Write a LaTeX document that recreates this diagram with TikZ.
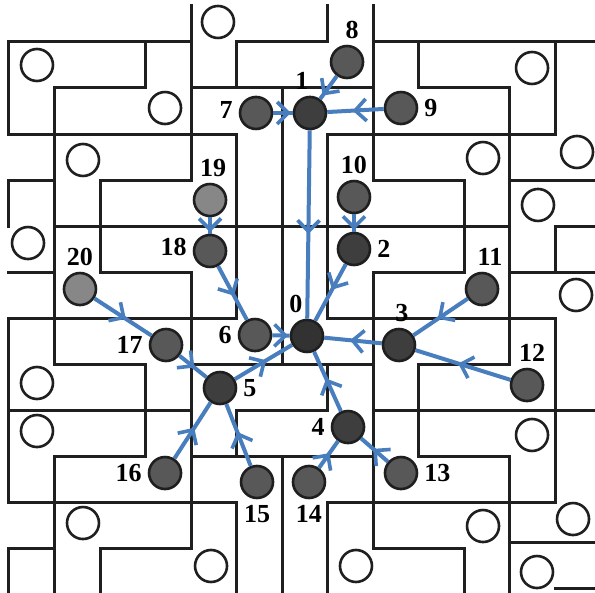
\documentclass[tikz,border=0pt]{standalone}
\usepackage{fontspec}
\setmainfont{Liberation Serif}
\usepackage{xcolor}
\usepackage{tikz}
\usetikzlibrary{arrows.meta,decorations.markings}

\definecolor{flowblue}{RGB}{72,125,190}
\definecolor{rootgray}{RGB}{50,50,50}
\definecolor{hubgray}{RGB}{62,62,62}
\definecolor{agentgray}{RGB}{88,88,88}
\definecolor{lonegray}{RGB}{135,135,135}

\begin{document}
\begin{tikzpicture}[x=45.5pt, y=-46pt, minimum size=32pt, label distance=6pt,
    wall/.style={line width=3pt, draw=black!88, line cap=rect},
    spot/.style={line width=2.6pt, draw=black!88, fill=white},
    agent/.style={shape=circle, draw=black!88, line width=2.6pt, fill=agentgray, inner sep=0pt},
    hub/.style={agent, fill=hubgray},
    lone/.style={agent, fill=lonegray},
    lbl/.style={font=\bfseries\fontsize{26}{26}\selectfont, inner sep=0pt, minimum size=0pt},
    flow/.style={draw=flowblue, line width=4pt, postaction={decorate},
        decoration={markings, mark=at position #1 with {\arrow[flowblue]{Straight Barb[length=11pt, width=22pt, line width=3.6pt]}}}},
    flow/.default=0.55]
    \useasboundingbox[fill=white] (-0.1978, -0.913) rectangle (12.879, 11.978);

    % maze walls
    \draw[wall]
        (0,0) -- (4,0) (5,0) -- (7,0) (8,0) -- (12.9,0)
        (1,1) -- (3,1) (4,1) -- (8,1) (9,1) -- (11,1)
        (0,2) -- (5,2) (7,2) -- (12,2)
        (0,3) -- (1,3) (2,3) -- (4,3) (8,3) -- (10,3) (11,3) -- (12.9,3)
        (1,4) -- (11,4) (12,4) -- (12.9,4)
        (0,5) -- (1,5) (2,5) -- (4,5) (8,5) -- (10,5) (11,5) -- (12.9,5)
        (0,6) -- (5,6) (7,6) -- (12,6)
        (1,7) -- (3,7) (4,7) -- (8,7) (9,7) -- (11,7)
        (0,8) -- (4,8) (5,8) -- (7,8) (8,8) -- (12.9,8)
        (1,9) -- (3,9) (4,9) -- (8,9) (9,9) -- (11,9)
        (0,10) -- (5,10) (7,10) -- (12,10)
        (0,11) -- (1,11) (2,11) -- (4,11) (8,11) -- (10,11) (11,10.88) -- (12.9,10.88)
        (12,11.87) -- (12.9,11.87);
    \draw[wall]
        (0,0) -- (0,2) (0,3) -- (0,4) (0,6) -- (0,10) (0,11) -- (0,11.95)
        (1,1) -- (1,7) (1,9) -- (1,11.95)
        (2,3) -- (2,5) (2,11) -- (2,11.95)
        (3,0) -- (3,1) (3,7) -- (3,9)
        (4,-0.8) -- (4,3) (4,5) -- (4,11)
        (5,0) -- (5,1) (5,2) -- (5,6) (5,8) -- (5,9) (5,10) -- (5,11.95)
        (6,1) -- (6,7) (6,9) -- (6,11.95)
        (7,-0.8) -- (7,0) (7,2) -- (7,6) (7,7) -- (7,8) (7,10) -- (7,11.95)
        (8,-0.8) -- (8,3) (8,5) -- (8,11)
        (9,0) -- (9,1) (9,7) -- (9,9)
        (10,3) -- (10,5) (10,11) -- (10,11.95)
        (11,1) -- (11,7) (11,9) -- (11,11.95)
        (12,0) -- (12,2) (12,4) -- (12,5) (12,6) -- (12,10);

    % free cells
    \draw[spot]
        (0.615, 0.5) circle[radius=16pt] (4.593, -0.435) circle[radius=16pt]
        (3.429, 1.435) circle[radius=16pt] (1.626, 2.565) circle[radius=16pt]
        (0.418, 4.37) circle[radius=16pt] (11.495, 0.565) circle[radius=16pt]
        (10.418, 2.522) circle[radius=16pt] (12.484, 2.391) circle[radius=16pt]
        (11.626, 3.543) circle[radius=16pt] (12.462, 5.5) circle[radius=16pt]
        (0.615, 7.413) circle[radius=16pt] (0.615, 8.457) circle[radius=16pt]
        (1.626, 10.457) circle[radius=16pt] (4.44, 11.391) circle[radius=16pt]
        (7.626, 11.391) circle[radius=16pt] (10.418, 10.522) circle[radius=16pt]
        (12.396, 10.37) circle[radius=16pt] (11.604, 11.522) circle[radius=16pt]
        (11.495, 8.543) circle[radius=16pt];

    % agents
    \node[hub, fill=rootgray, label distance=2pt, label={[lbl, xshift=-11pt]above:0}] (0) at (6.549, 6.391) {};
    \node[hub, label distance=15pt, label={[lbl, xshift=-8pt]above:1}] (1) at (6.615, 1.543) {};
    \node[hub, label distance=5pt, label={[lbl]right:2}] (2) at (7.582, 4.5) {};
    \node[hub, label distance=17pt, label={[lbl, xshift=3pt]above:3}] (3) at (8.571, 6.587) {};
    \node[hub, label distance=1pt, label={[lbl]left:4}] (4) at (7.451, 8.37) {};
    \node[hub, label distance=8pt, label={[lbl]right:5}] (5) at (4.637, 7.522) {};
    \node[agent, label distance=3pt, label={[lbl]left:6}] (6) at (5.407, 6.37) {};
    \node[agent, label distance=2pt, label={[lbl, yshift=3pt]left:7}] (7) at (5.429, 1.543) {};
    \node[agent, label distance=7pt, label={[lbl, xshift=5pt]above:8}] (8) at (7.429, 0.435) {};
    \node[agent, label distance=7pt, label={[lbl]right:9}] (9) at (8.615, 1.435) {};
    \node[agent, label distance=6pt, label={[lbl]above:10}] (10) at (7.582, 3.37) {};
    \node[agent, label distance=3pt, label={[lbl, xshift=8pt]above:11}] (11) at (10.396, 5.37) {};
    \node[agent, label distance=7pt, label={[lbl, xshift=5pt]above:12}] (12) at (11.385, 7.457) {};
    \node[agent, label distance=6pt, label={[lbl]right:13}] (13) at (8.615, 9.37) {};
    \node[agent, label distance=5pt, label={[lbl]below:14}] (14) at (6.593, 9.565) {};
    \node[agent, label distance=5pt, label={[lbl]below:15}] (15) at (5.451, 9.565) {};
    \node[agent, label distance=2pt, label={[lbl]left:16}] (16) at (3.429, 9.37) {};
    \node[agent, label distance=4pt, label={[lbl]left:17}] (17) at (3.451, 6.587) {};
    \node[agent, label distance=5pt, label={[lbl, yshift=4pt]left:18}] (18) at (4.418, 4.543) {};
    \node[lone, label distance=7pt, label={[lbl, xshift=3pt]above:19}] (19) at (4.418, 3.435) {};
    \node[lone, label distance=6pt, label={[lbl]above:20}] (20) at (1.56, 5.37) {};

    \draw[flow=0.9] (7) -- (1);
    \draw[flow=0.85] (8) -- (1);
    \draw[flow] (9) -- (1);
    \draw[flow] (1) -- (0);
    \draw[flow=0.9] (10) -- (2);
    \draw[flow=0.45] (2) -- (0);
    \draw[flow=0.9] (19) -- (18);
    \draw[flow] (18) -- (6);
    \draw[flow=0.9] (6) -- (0);
    \draw[flow] (20) -- (17);
    \draw[flow] (17) -- (5);
    \draw[flow] (16) -- (5);
    \draw[flow] (15) -- (5);
    \draw[flow] (5) -- (0);
    \draw[flow] (11) -- (3);
    \draw[flow] (12) -- (3);
    \draw[flow] (3) -- (0);
    \draw[flow] (4) -- (0);
    \draw[flow] (13) -- (4);
    \draw[flow] (14) -- (4);
\end{tikzpicture}
\end{document}
